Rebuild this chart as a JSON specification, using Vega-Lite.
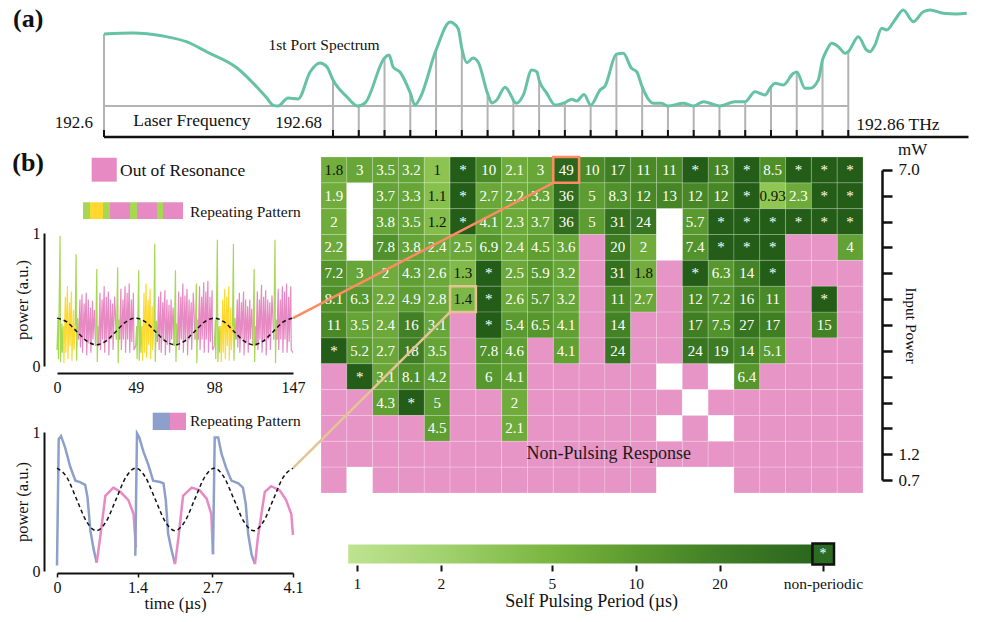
{
"$schema":"https://vega.github.io/schema/vega-lite/v6.json",
"width":997,"height":622,"padding":0,"autosize":{"type":"none"},
"background":"#ffffff",
"config":{"view":{"stroke":null},"font":"Liberation Serif","text":{"font":"Liberation Serif","color":"#111111"},
"axis":{"labelFont":"Liberation Serif","titleFont":"Liberation Serif","titleFontWeight":"normal","grid":false,"labelColor":"#111111","titleColor":"#111111","labelFlush":false,"labelOverlap":false}},
"resolve":{"scale":{"x":"independent","y":"independent","color":"independent","fill":"independent","stroke":"independent"},"axis":{"x":"independent","y":"independent"}},
"datasets":{
"spec":[
{"f":192.6,"v":0.75},{"f":192.6101,"v":0.76},{"f":192.6206,"v":0.729},{"f":192.629,"v":0.667},{"f":192.636,"v":0.5625},{"f":192.6465,"v":0.396},{"f":192.6534,"v":0.198},{"f":192.6569,"v":0.083},{"f":192.659,"v":0.01},{"f":192.6608,"v":0},{"f":192.6643,"v":0.083},{"f":192.6678,"v":0.073},{"f":192.672,"v":0.354},{"f":192.6755,"v":0.448},{"f":192.6779,"v":0.406},{"f":192.68,"v":0.271},{"f":192.6849,"v":0.094},{"f":192.6887,"v":0},{"f":192.6912,"v":0.031},{"f":192.698,"v":0.5},{"f":192.6996,"v":0.531},{"f":192.701,"v":0.406},{"f":192.7034,"v":0.354},{"f":192.707,"v":0.135},{"f":192.7086,"v":0.01},{"f":192.7104,"v":0.083},{"f":192.716,"v":0.583},{"f":192.7209,"v":0.875},{"f":192.7219,"v":0.865},{"f":192.7238,"v":0.8},{"f":192.725,"v":0.6},{"f":192.7268,"v":0.45},{"f":192.7289,"v":0.5},{"f":192.7307,"v":0.458},{"f":192.734,"v":0.13},{"f":192.7355,"v":0.031},{"f":192.7372,"v":0.0625},{"f":192.7401,"v":0.195},{"f":192.7424,"v":0.097},{"f":192.743,"v":0.06},{"f":192.7442,"v":0.028},{"f":192.7465,"v":0.115},{"f":192.7494,"v":0.375},{"f":192.7512,"v":0.357},{"f":192.752,"v":0.27},{"f":192.7547,"v":0.132},{"f":192.7576,"v":0.01},{"f":192.761,"v":0.035},{"f":192.7634,"v":0.07},{"f":192.7651,"v":0.052},{"f":192.7677,"v":0.12},{"f":192.77,"v":0.01},{"f":192.7733,"v":0.167},{"f":192.775,"v":0.208},{"f":192.779,"v":0.54},{"f":192.7814,"v":0.55},{"f":192.7843,"v":0.392},{"f":192.7861,"v":0.357},{"f":192.788,"v":0.2},{"f":192.7919,"v":0.028},{"f":192.7948,"v":0.028},{"f":192.797,"v":0},{"f":192.8024,"v":0.028},{"f":192.806,"v":0},{"f":192.8094,"v":0.045},{"f":192.8117,"v":0.028},{"f":192.815,"v":0},{"f":192.8204,"v":0.045},{"f":192.824,"v":0.045},{"f":192.8274,"v":0.149},{"f":192.8309,"v":0.115},{"f":192.833,"v":0.2},{"f":192.8344,"v":0.236},{"f":192.8373,"v":0.219},{"f":192.8408,"v":0.34},{"f":192.842,"v":0.355},{"f":192.8449,"v":0.184},{"f":192.8466,"v":0.184},{"f":192.8495,"v":0.27},{"f":192.851,"v":0.48},{"f":192.8525,"v":0.583},{"f":192.8542,"v":0.653},{"f":192.8565,"v":0.618},{"f":192.8589,"v":0.549},{"f":192.86,"v":0.566},{"f":192.8635,"v":0.722},{"f":192.8664,"v":0.583},{"f":192.8676,"v":0.566},{"f":192.8693,"v":0.635},{"f":192.8717,"v":0.809},{"f":192.8734,"v":0.792},{"f":192.8763,"v":0.896},{"f":192.8792,"v":1.0},{"f":192.8827,"v":0.878},{"f":192.8862,"v":0.982},{"f":192.8886,"v":1.0},{"f":192.8932,"v":0.965},{"f":192.8979,"v":0.958},{"f":192.9014,"v":0.965}
],
"ticks":[
{"f":192.6,"v":0.75},{"f":192.68,"v":0.271},{"f":192.689,"v":0},{"f":192.698,"v":0.5},{"f":192.707,"v":0.135},{"f":192.716,"v":0.583},{"f":192.725,"v":0.6},{"f":192.734,"v":0.13},{"f":192.743,"v":0.06},{"f":192.752,"v":0.27},{"f":192.761,"v":0.035},{"f":192.77,"v":0.01},{"f":192.779,"v":0.54},{"f":192.788,"v":0.2},{"f":192.797,"v":0},{"f":192.806,"v":0},{"f":192.815,"v":0},{"f":192.824,"v":0.045},{"f":192.833,"v":0.2},{"f":192.842,"v":0.355},{"f":192.851,"v":0.48},{"f":192.86,"v":0.566}
],
"heat":[
{"r":0,"c":0,"v":1.8,"t":"1.8"},{"r":0,"c":1,"v":3,"t":"3"},{"r":0,"c":2,"v":3.5,"t":"3.5"},{"r":0,"c":3,"v":3.2,"t":"3.2"},{"r":0,"c":4,"v":1,"t":"1"},{"r":0,"c":5,"k":"s","t":"*"},{"r":0,"c":6,"v":10,"t":"10"},{"r":0,"c":7,"v":2.1,"t":"2.1"},{"r":0,"c":8,"v":3,"t":"3"},{"r":0,"c":9,"v":49,"t":"49"},{"r":0,"c":10,"v":10,"t":"10"},{"r":0,"c":11,"v":17,"t":"17"},{"r":0,"c":12,"v":11,"t":"11"},{"r":0,"c":13,"v":11,"t":"11"},{"r":0,"c":14,"k":"s","t":"*"},{"r":0,"c":15,"v":13,"t":"13"},{"r":0,"c":16,"k":"s","t":"*"},{"r":0,"c":17,"v":8.5,"t":"8.5"},{"r":0,"c":18,"k":"s","t":"*"},{"r":0,"c":19,"k":"s","t":"*"},{"r":0,"c":20,"k":"s","t":"*"},
{"r":1,"c":0,"v":1.9,"t":"1.9"},{"r":1,"c":1,"k":"w"},{"r":1,"c":2,"v":3.7,"t":"3.7"},{"r":1,"c":3,"v":3.3,"t":"3.3"},{"r":1,"c":4,"v":1.1,"t":"1.1"},{"r":1,"c":5,"k":"s","t":"*"},{"r":1,"c":6,"v":2.7,"t":"2.7"},{"r":1,"c":7,"v":2.2,"t":"2.2"},{"r":1,"c":8,"v":3.3,"t":"3.3"},{"r":1,"c":9,"v":36,"t":"36"},{"r":1,"c":10,"v":5,"t":"5"},{"r":1,"c":11,"v":8.3,"t":"8.3"},{"r":1,"c":12,"v":12,"t":"12"},{"r":1,"c":13,"v":13,"t":"13"},{"r":1,"c":14,"v":12,"t":"12"},{"r":1,"c":15,"v":12,"t":"12"},{"r":1,"c":16,"k":"s","t":"*"},{"r":1,"c":17,"v":0.93,"t":"0.93"},{"r":1,"c":18,"v":2.3,"t":"2.3"},{"r":1,"c":19,"k":"s","t":"*"},{"r":1,"c":20,"k":"s","t":"*"},
{"r":2,"c":0,"v":2,"t":"2"},{"r":2,"c":1,"k":"w"},{"r":2,"c":2,"v":3.8,"t":"3.8"},{"r":2,"c":3,"v":3.5,"t":"3.5"},{"r":2,"c":4,"v":1.2,"t":"1.2"},{"r":2,"c":5,"k":"s","t":"*"},{"r":2,"c":6,"v":4.1,"t":"4.1"},{"r":2,"c":7,"v":2.3,"t":"2.3"},{"r":2,"c":8,"v":3.7,"t":"3.7"},{"r":2,"c":9,"v":36,"t":"36"},{"r":2,"c":10,"v":5,"t":"5"},{"r":2,"c":11,"v":31,"t":"31"},{"r":2,"c":12,"v":24,"t":"24"},{"r":2,"c":13,"k":"w"},{"r":2,"c":14,"v":5.7,"t":"5.7"},{"r":2,"c":15,"k":"s","t":"*"},{"r":2,"c":16,"k":"s","t":"*"},{"r":2,"c":17,"k":"s","t":"*"},{"r":2,"c":18,"k":"s","t":"*"},{"r":2,"c":19,"k":"s","t":"*"},{"r":2,"c":20,"k":"s","t":"*"},
{"r":3,"c":0,"v":2.2,"t":"2.2"},{"r":3,"c":1,"k":"w"},{"r":3,"c":2,"v":7.8,"t":"7.8"},{"r":3,"c":3,"v":3.8,"t":"3.8"},{"r":3,"c":4,"v":2.4,"t":"2.4"},{"r":3,"c":5,"v":2.5,"t":"2.5"},{"r":3,"c":6,"v":6.9,"t":"6.9"},{"r":3,"c":7,"v":2.4,"t":"2.4"},{"r":3,"c":8,"v":4.5,"t":"4.5"},{"r":3,"c":9,"v":3.6,"t":"3.6"},{"r":3,"c":10,"k":"p"},{"r":3,"c":11,"v":20,"t":"20"},{"r":3,"c":12,"v":2,"t":"2"},{"r":3,"c":13,"k":"w"},{"r":3,"c":14,"v":7.4,"t":"7.4"},{"r":3,"c":15,"k":"s","t":"*"},{"r":3,"c":16,"k":"s","t":"*"},{"r":3,"c":17,"k":"s","t":"*"},{"r":3,"c":18,"k":"p"},{"r":3,"c":19,"k":"p"},{"r":3,"c":20,"v":4,"t":"4"},
{"r":4,"c":0,"v":7.2,"t":"7.2"},{"r":4,"c":1,"v":3,"t":"3"},{"r":4,"c":2,"v":2,"t":"2"},{"r":4,"c":3,"v":4.3,"t":"4.3"},{"r":4,"c":4,"v":2.6,"t":"2.6"},{"r":4,"c":5,"v":1.3,"t":"1.3"},{"r":4,"c":6,"k":"s","t":"*"},{"r":4,"c":7,"v":2.5,"t":"2.5"},{"r":4,"c":8,"v":5.9,"t":"5.9"},{"r":4,"c":9,"v":3.2,"t":"3.2"},{"r":4,"c":10,"k":"p"},{"r":4,"c":11,"v":31,"t":"31"},{"r":4,"c":12,"v":1.8,"t":"1.8"},{"r":4,"c":13,"k":"p"},{"r":4,"c":14,"k":"s","t":"*"},{"r":4,"c":15,"v":6.3,"t":"6.3"},{"r":4,"c":16,"v":14,"t":"14"},{"r":4,"c":17,"k":"s","t":"*"},{"r":4,"c":18,"k":"p"},{"r":4,"c":19,"k":"p"},{"r":4,"c":20,"k":"p"},
{"r":5,"c":0,"v":8.1,"t":"8.1"},{"r":5,"c":1,"v":6.3,"t":"6.3"},{"r":5,"c":2,"v":2.2,"t":"2.2"},{"r":5,"c":3,"v":4.9,"t":"4.9"},{"r":5,"c":4,"v":2.8,"t":"2.8"},{"r":5,"c":5,"v":1.4,"t":"1.4"},{"r":5,"c":6,"k":"s","t":"*"},{"r":5,"c":7,"v":2.6,"t":"2.6"},{"r":5,"c":8,"v":5.7,"t":"5.7"},{"r":5,"c":9,"v":3.2,"t":"3.2"},{"r":5,"c":10,"k":"p"},{"r":5,"c":11,"v":11,"t":"11"},{"r":5,"c":12,"v":2.7,"t":"2.7"},{"r":5,"c":13,"k":"p"},{"r":5,"c":14,"v":12,"t":"12"},{"r":5,"c":15,"v":7.2,"t":"7.2"},{"r":5,"c":16,"v":16,"t":"16"},{"r":5,"c":17,"v":11,"t":"11"},{"r":5,"c":18,"k":"p"},{"r":5,"c":19,"k":"s","t":"*"},{"r":5,"c":20,"k":"p"},
{"r":6,"c":0,"v":11,"t":"11"},{"r":6,"c":1,"v":3.5,"t":"3.5"},{"r":6,"c":2,"v":2.4,"t":"2.4"},{"r":6,"c":3,"v":16,"t":"16"},{"r":6,"c":4,"v":3.1,"t":"3.1"},{"r":6,"c":5,"k":"p"},{"r":6,"c":6,"k":"s","t":"*"},{"r":6,"c":7,"v":5.4,"t":"5.4"},{"r":6,"c":8,"v":6.5,"t":"6.5"},{"r":6,"c":9,"v":4.1,"t":"4.1"},{"r":6,"c":10,"k":"p"},{"r":6,"c":11,"v":14,"t":"14"},{"r":6,"c":12,"k":"p"},{"r":6,"c":13,"k":"p"},{"r":6,"c":14,"v":17,"t":"17"},{"r":6,"c":15,"v":7.5,"t":"7.5"},{"r":6,"c":16,"v":27,"t":"27"},{"r":6,"c":17,"v":17,"t":"17"},{"r":6,"c":18,"k":"p"},{"r":6,"c":19,"v":15,"t":"15"},{"r":6,"c":20,"k":"p"},
{"r":7,"c":0,"k":"s","t":"*"},{"r":7,"c":1,"v":5.2,"t":"5.2"},{"r":7,"c":2,"v":2.7,"t":"2.7"},{"r":7,"c":3,"v":18,"t":"18"},{"r":7,"c":4,"v":3.5,"t":"3.5"},{"r":7,"c":5,"k":"p"},{"r":7,"c":6,"v":7.8,"t":"7.8"},{"r":7,"c":7,"v":4.6,"t":"4.6"},{"r":7,"c":8,"k":"p"},{"r":7,"c":9,"v":4.1,"t":"4.1"},{"r":7,"c":10,"k":"p"},{"r":7,"c":11,"v":24,"t":"24"},{"r":7,"c":12,"k":"p"},{"r":7,"c":13,"k":"p"},{"r":7,"c":14,"v":24,"t":"24"},{"r":7,"c":15,"v":19,"t":"19"},{"r":7,"c":16,"v":14,"t":"14"},{"r":7,"c":17,"v":5.1,"t":"5.1"},{"r":7,"c":18,"k":"p"},{"r":7,"c":19,"k":"p"},{"r":7,"c":20,"k":"p"},
{"r":8,"c":0,"k":"p"},{"r":8,"c":1,"k":"s","t":"*"},{"r":8,"c":2,"v":3.1,"t":"3.1"},{"r":8,"c":3,"v":8.1,"t":"8.1"},{"r":8,"c":4,"v":4.2,"t":"4.2"},{"r":8,"c":5,"k":"p"},{"r":8,"c":6,"v":6,"t":"6"},{"r":8,"c":7,"v":4.1,"t":"4.1"},{"r":8,"c":8,"k":"p"},{"r":8,"c":9,"k":"p"},{"r":8,"c":10,"k":"p"},{"r":8,"c":11,"k":"p"},{"r":8,"c":12,"k":"p"},{"r":8,"c":13,"k":"w"},{"r":8,"c":14,"k":"p"},{"r":8,"c":15,"k":"w"},{"r":8,"c":16,"v":6.4,"t":"6.4"},{"r":8,"c":17,"k":"p"},{"r":8,"c":18,"k":"p"},{"r":8,"c":19,"k":"p"},{"r":8,"c":20,"k":"p"},
{"r":9,"c":0,"k":"p"},{"r":9,"c":1,"k":"p"},{"r":9,"c":2,"v":4.3,"t":"4.3"},{"r":9,"c":3,"k":"s","t":"*"},{"r":9,"c":4,"v":5,"t":"5"},{"r":9,"c":5,"k":"p"},{"r":9,"c":6,"k":"p"},{"r":9,"c":7,"v":2,"t":"2"},{"r":9,"c":8,"k":"p"},{"r":9,"c":9,"k":"p"},{"r":9,"c":10,"k":"p"},{"r":9,"c":11,"k":"p"},{"r":9,"c":12,"k":"p"},{"r":9,"c":13,"k":"p"},{"r":9,"c":14,"k":"w"},{"r":9,"c":15,"k":"p"},{"r":9,"c":16,"k":"p"},{"r":9,"c":17,"k":"p"},{"r":9,"c":18,"k":"p"},{"r":9,"c":19,"k":"p"},{"r":9,"c":20,"k":"p"},
{"r":10,"c":0,"k":"p"},{"r":10,"c":1,"k":"p"},{"r":10,"c":2,"k":"p"},{"r":10,"c":3,"k":"p"},{"r":10,"c":4,"v":4.5,"t":"4.5"},{"r":10,"c":5,"k":"p"},{"r":10,"c":6,"k":"p"},{"r":10,"c":7,"v":2.1,"t":"2.1"},{"r":10,"c":8,"k":"p"},{"r":10,"c":9,"k":"p"},{"r":10,"c":10,"k":"p"},{"r":10,"c":11,"k":"p"},{"r":10,"c":12,"k":"p"},{"r":10,"c":13,"k":"w"},{"r":10,"c":14,"k":"p"},{"r":10,"c":15,"k":"w"},{"r":10,"c":16,"k":"p"},{"r":10,"c":17,"k":"p"},{"r":10,"c":18,"k":"p"},{"r":10,"c":19,"k":"p"},{"r":10,"c":20,"k":"p"},
{"r":11,"c":0,"k":"p"},{"r":11,"c":1,"k":"p"},{"r":11,"c":2,"k":"p"},{"r":11,"c":3,"k":"p"},{"r":11,"c":4,"k":"p"},{"r":11,"c":5,"k":"p"},{"r":11,"c":6,"k":"p"},{"r":11,"c":7,"k":"p"},{"r":11,"c":8,"k":"p"},{"r":11,"c":9,"k":"p"},{"r":11,"c":10,"k":"p"},{"r":11,"c":11,"k":"p"},{"r":11,"c":12,"k":"p"},{"r":11,"c":13,"k":"p"},{"r":11,"c":14,"k":"p"},{"r":11,"c":15,"k":"p"},{"r":11,"c":16,"k":"p"},{"r":11,"c":17,"k":"p"},{"r":11,"c":18,"k":"p"},{"r":11,"c":19,"k":"p"},{"r":11,"c":20,"k":"p"},
{"r":12,"c":0,"k":"p"},{"r":12,"c":1,"k":"w"},{"r":12,"c":2,"k":"p"},{"r":12,"c":3,"k":"p"},{"r":12,"c":4,"k":"p"},{"r":12,"c":5,"k":"p"},{"r":12,"c":6,"k":"p"},{"r":12,"c":7,"k":"p"},{"r":12,"c":8,"k":"p"},{"r":12,"c":9,"k":"p"},{"r":12,"c":10,"k":"p"},{"r":12,"c":11,"k":"p"},{"r":12,"c":12,"k":"p"},{"r":12,"c":13,"k":"w"},{"r":12,"c":14,"k":"w"},{"r":12,"c":15,"k":"w"},{"r":12,"c":16,"k":"p"},{"r":12,"c":17,"k":"p"},{"r":12,"c":18,"k":"p"},{"r":12,"c":19,"k":"p"},{"r":12,"c":20,"k":"p"}
],
"tl":[
{"t":0,"p":0.12,"s":0,"c":"g"},{"t":0.6,"p":0.35,"s":0,"c":"g"},{"t":0.9,"p":0.05,"s":0,"c":"g"},{"t":1.9,"p":0.98,"s":0,"c":"g"},{"t":2.2,"p":0.03,"s":0,"c":"g"},{"t":3.0,"p":0.32,"s":0,"c":"g"},{"t":3.3,"p":0.1,"s":0,"c":"g"},{"t":4.0,"p":0.3,"s":0,"c":"g"},
{"t":4.0,"p":0.3,"s":1,"c":"y"},{"t":4.3,"p":0.02,"s":1,"c":"y"},{"t":5.2,"p":0.52,"s":1,"c":"y"},{"t":5.5,"p":0.1,"s":1,"c":"y"},{"t":6.5,"p":0.6,"s":1,"c":"y"},{"t":6.8,"p":0.05,"s":1,"c":"y"},{"t":7.8,"p":0.48,"s":1,"c":"y"},{"t":8.1,"p":0.15,"s":1,"c":"y"},{"t":9.0,"p":0.56,"s":1,"c":"y"},{"t":9.3,"p":0.04,"s":1,"c":"y"},{"t":10.3,"p":0.42,"s":1,"c":"y"},{"t":10.6,"p":0.12,"s":1,"c":"y"},{"t":11.3,"p":0.3,"s":1,"c":"y"},
{"t":11.3,"p":0.3,"s":2,"c":"g"},{"t":11.9,"p":0.84,"s":2,"c":"g"},{"t":12.2,"p":0.04,"s":2,"c":"g"},{"t":12.9,"p":0.36,"s":2,"c":"g"},{"t":13.5,"p":0.2,"s":2,"c":"g"},
{"t":13.5,"p":0.2,"s":3,"c":"p"},{"t":14.3,"p":0.5,"s":3,"c":"p"},{"t":14.6,"p":0.14,"s":3,"c":"p"},{"t":15.6,"p":0.54,"s":3,"c":"p"},{"t":15.9,"p":0.1,"s":3,"c":"p"},{"t":16.9,"p":0.47,"s":3,"c":"p"},{"t":17.2,"p":0.2,"s":3,"c":"p"},{"t":18.2,"p":0.55,"s":3,"c":"p"},{"t":18.5,"p":0.08,"s":3,"c":"p"},{"t":19.5,"p":0.5,"s":3,"c":"p"},{"t":19.8,"p":0.17,"s":3,"c":"p"},{"t":20.8,"p":0.44,"s":3,"c":"p"},{"t":21.1,"p":0.1,"s":3,"c":"p"},{"t":22.1,"p":0.49,"s":3,"c":"p"},{"t":22.4,"p":0.2,"s":3,"c":"p"},{"t":23.3,"p":0.42,"s":3,"c":"p"},{"t":24.0,"p":0.15,"s":3,"c":"p"},
{"t":24.0,"p":0.15,"s":4,"c":"g"},{"t":24.8,"p":0.73,"s":4,"c":"g"},{"t":25.1,"p":0.03,"s":4,"c":"g"},{"t":25.6,"p":0.3,"s":4,"c":"g"},{"t":26.0,"p":0.15,"s":4,"c":"g"},
{"t":26.0,"p":0.15,"s":5,"c":"p"},{"t":26.8,"p":0.55,"s":5,"c":"p"},{"t":27.1,"p":0.12,"s":5,"c":"p"},{"t":28.1,"p":0.5,"s":5,"c":"p"},{"t":28.4,"p":0.2,"s":5,"c":"p"},{"t":29.4,"p":0.6,"s":5,"c":"p"},{"t":29.7,"p":0.1,"s":5,"c":"p"},{"t":30.7,"p":0.52,"s":5,"c":"p"},{"t":31.0,"p":0.18,"s":5,"c":"p"},{"t":32.0,"p":0.56,"s":5,"c":"p"},{"t":32.3,"p":0.08,"s":5,"c":"p"},{"t":33.3,"p":0.5,"s":5,"c":"p"},{"t":33.6,"p":0.2,"s":5,"c":"p"},{"t":34.6,"p":0.47,"s":5,"c":"p"},{"t":34.9,"p":0.12,"s":5,"c":"p"},{"t":35.9,"p":0.52,"s":5,"c":"p"},{"t":37.0,"p":0.2,"s":5,"c":"p"},
{"t":37.0,"p":0.2,"s":6,"c":"g"},{"t":37.8,"p":0.74,"s":6,"c":"g"},{"t":38.1,"p":0.02,"s":6,"c":"g"},{"t":38.6,"p":0.35,"s":6,"c":"g"},{"t":39.0,"p":0.2,"s":6,"c":"g"},
{"t":39.0,"p":0.2,"s":7,"c":"p"},{"t":39.8,"p":0.58,"s":7,"c":"p"},{"t":40.1,"p":0.12,"s":7,"c":"p"},{"t":41.1,"p":0.5,"s":7,"c":"p"},{"t":41.4,"p":0.2,"s":7,"c":"p"},{"t":42.4,"p":0.6,"s":7,"c":"p"},{"t":42.7,"p":0.1,"s":7,"c":"p"},{"t":43.7,"p":0.55,"s":7,"c":"p"},{"t":44.0,"p":0.2,"s":7,"c":"p"},{"t":45.0,"p":0.62,"s":7,"c":"p"},{"t":45.3,"p":0.1,"s":7,"c":"p"},{"t":46.3,"p":0.5,"s":7,"c":"p"},{"t":46.6,"p":0.18,"s":7,"c":"p"},{"t":47.6,"p":0.55,"s":7,"c":"p"},{"t":47.9,"p":0.12,"s":7,"c":"p"},{"t":49.0,"p":0.15,"s":7,"c":"p"},
{"t":49.0,"p":0.15,"s":10,"c":"g"},{"t":49.6,"p":0.3,"s":10,"c":"g"},{"t":49.9,"p":0.05,"s":10,"c":"g"},{"t":50.9,"p":0.72,"s":10,"c":"g"},{"t":51.2,"p":0.04,"s":10,"c":"g"},{"t":52.0,"p":0.35,"s":10,"c":"g"},{"t":52.3,"p":0.1,"s":10,"c":"g"},{"t":53.0,"p":0.3,"s":10,"c":"g"},
{"t":53.0,"p":0.3,"s":11,"c":"y"},{"t":53.3,"p":0.04,"s":11,"c":"y"},{"t":54.2,"p":0.55,"s":11,"c":"y"},{"t":54.5,"p":0.1,"s":11,"c":"y"},{"t":55.5,"p":0.62,"s":11,"c":"y"},{"t":55.8,"p":0.06,"s":11,"c":"y"},{"t":56.8,"p":0.5,"s":11,"c":"y"},{"t":57.1,"p":0.16,"s":11,"c":"y"},{"t":58.0,"p":0.58,"s":11,"c":"y"},{"t":58.3,"p":0.05,"s":11,"c":"y"},{"t":59.3,"p":0.45,"s":11,"c":"y"},{"t":59.6,"p":0.12,"s":11,"c":"y"},{"t":60.3,"p":0.28,"s":11,"c":"y"},
{"t":60.3,"p":0.28,"s":12,"c":"g"},{"t":60.9,"p":0.92,"s":12,"c":"g"},{"t":61.2,"p":0.03,"s":12,"c":"g"},{"t":61.9,"p":0.34,"s":12,"c":"g"},{"t":62.5,"p":0.18,"s":12,"c":"g"},
{"t":62.5,"p":0.18,"s":13,"c":"p"},{"t":63.3,"p":0.52,"s":13,"c":"p"},{"t":63.6,"p":0.12,"s":13,"c":"p"},{"t":64.6,"p":0.56,"s":13,"c":"p"},{"t":64.9,"p":0.1,"s":13,"c":"p"},{"t":65.9,"p":0.48,"s":13,"c":"p"},{"t":66.2,"p":0.2,"s":13,"c":"p"},{"t":67.2,"p":0.57,"s":13,"c":"p"},{"t":67.5,"p":0.08,"s":13,"c":"p"},{"t":68.5,"p":0.5,"s":13,"c":"p"},{"t":68.8,"p":0.16,"s":13,"c":"p"},{"t":69.8,"p":0.46,"s":13,"c":"p"},{"t":70.1,"p":0.1,"s":13,"c":"p"},{"t":71.1,"p":0.5,"s":13,"c":"p"},{"t":71.4,"p":0.2,"s":13,"c":"p"},{"t":72.3,"p":0.44,"s":13,"c":"p"},{"t":73.0,"p":0.15,"s":13,"c":"p"},
{"t":73.0,"p":0.15,"s":14,"c":"g"},{"t":73.8,"p":0.72,"s":14,"c":"g"},{"t":74.1,"p":0.03,"s":14,"c":"g"},{"t":74.6,"p":0.32,"s":14,"c":"g"},{"t":75.0,"p":0.15,"s":14,"c":"g"},
{"t":75.0,"p":0.15,"s":15,"c":"p"},{"t":75.8,"p":0.56,"s":15,"c":"p"},{"t":76.1,"p":0.12,"s":15,"c":"p"},{"t":77.1,"p":0.52,"s":15,"c":"p"},{"t":77.4,"p":0.2,"s":15,"c":"p"},{"t":78.4,"p":0.62,"s":15,"c":"p"},{"t":78.7,"p":0.1,"s":15,"c":"p"},{"t":79.7,"p":0.53,"s":15,"c":"p"},{"t":80.0,"p":0.18,"s":15,"c":"p"},{"t":81.0,"p":0.58,"s":15,"c":"p"},{"t":81.3,"p":0.08,"s":15,"c":"p"},{"t":82.3,"p":0.5,"s":15,"c":"p"},{"t":82.6,"p":0.2,"s":15,"c":"p"},{"t":83.6,"p":0.48,"s":15,"c":"p"},{"t":83.9,"p":0.12,"s":15,"c":"p"},{"t":84.9,"p":0.55,"s":15,"c":"p"},{"t":86.0,"p":0.2,"s":15,"c":"p"},
{"t":86.0,"p":0.2,"s":16,"c":"g"},{"t":86.8,"p":0.62,"s":16,"c":"g"},{"t":87.1,"p":0.02,"s":16,"c":"g"},{"t":87.6,"p":0.35,"s":16,"c":"g"},{"t":88.0,"p":0.2,"s":16,"c":"g"},
{"t":88.0,"p":0.2,"s":17,"c":"p"},{"t":88.8,"p":0.6,"s":17,"c":"p"},{"t":89.1,"p":0.12,"s":17,"c":"p"},{"t":90.1,"p":0.52,"s":17,"c":"p"},{"t":90.4,"p":0.2,"s":17,"c":"p"},{"t":91.4,"p":0.63,"s":17,"c":"p"},{"t":91.7,"p":0.1,"s":17,"c":"p"},{"t":92.7,"p":0.56,"s":17,"c":"p"},{"t":93.0,"p":0.2,"s":17,"c":"p"},{"t":94.0,"p":0.64,"s":17,"c":"p"},{"t":94.3,"p":0.1,"s":17,"c":"p"},{"t":95.3,"p":0.52,"s":17,"c":"p"},{"t":95.6,"p":0.18,"s":17,"c":"p"},{"t":96.6,"p":0.57,"s":17,"c":"p"},{"t":96.9,"p":0.12,"s":17,"c":"p"},{"t":98.0,"p":0.15,"s":17,"c":"p"},
{"t":98.0,"p":0.15,"s":20,"c":"g"},{"t":98.6,"p":0.35,"s":20,"c":"g"},{"t":98.9,"p":0.05,"s":20,"c":"g"},{"t":99.9,"p":0.95,"s":20,"c":"g"},{"t":100.2,"p":0.03,"s":20,"c":"g"},{"t":101.0,"p":0.3,"s":20,"c":"g"},{"t":101.3,"p":0.1,"s":20,"c":"g"},{"t":102.0,"p":0.3,"s":20,"c":"g"},
{"t":102.0,"p":0.3,"s":21,"c":"y"},{"t":102.3,"p":0.03,"s":21,"c":"y"},{"t":103.2,"p":0.5,"s":21,"c":"y"},{"t":103.5,"p":0.1,"s":21,"c":"y"},{"t":104.5,"p":0.58,"s":21,"c":"y"},{"t":104.8,"p":0.05,"s":21,"c":"y"},{"t":105.8,"p":0.52,"s":21,"c":"y"},{"t":106.1,"p":0.15,"s":21,"c":"y"},{"t":107.0,"p":0.6,"s":21,"c":"y"},{"t":107.3,"p":0.04,"s":21,"c":"y"},{"t":108.3,"p":0.44,"s":21,"c":"y"},{"t":108.6,"p":0.12,"s":21,"c":"y"},{"t":109.3,"p":0.3,"s":21,"c":"y"},
{"t":109.3,"p":0.3,"s":22,"c":"g"},{"t":109.9,"p":0.92,"s":22,"c":"g"},{"t":110.2,"p":0.04,"s":22,"c":"g"},{"t":110.9,"p":0.36,"s":22,"c":"g"},{"t":111.5,"p":0.2,"s":22,"c":"g"},
{"t":111.5,"p":0.2,"s":23,"c":"p"},{"t":112.3,"p":0.5,"s":23,"c":"p"},{"t":112.6,"p":0.14,"s":23,"c":"p"},{"t":113.6,"p":0.55,"s":23,"c":"p"},{"t":113.9,"p":0.1,"s":23,"c":"p"},{"t":114.9,"p":0.48,"s":23,"c":"p"},{"t":115.2,"p":0.2,"s":23,"c":"p"},{"t":116.2,"p":0.56,"s":23,"c":"p"},{"t":116.5,"p":0.08,"s":23,"c":"p"},{"t":117.5,"p":0.5,"s":23,"c":"p"},{"t":117.8,"p":0.17,"s":23,"c":"p"},{"t":118.8,"p":0.45,"s":23,"c":"p"},{"t":119.1,"p":0.1,"s":23,"c":"p"},{"t":120.1,"p":0.5,"s":23,"c":"p"},{"t":120.4,"p":0.2,"s":23,"c":"p"},{"t":121.3,"p":0.43,"s":23,"c":"p"},{"t":122.0,"p":0.15,"s":23,"c":"p"},
{"t":122.0,"p":0.15,"s":24,"c":"g"},{"t":122.8,"p":0.73,"s":24,"c":"g"},{"t":123.1,"p":0.03,"s":24,"c":"g"},{"t":123.6,"p":0.3,"s":24,"c":"g"},{"t":124.0,"p":0.15,"s":24,"c":"g"},
{"t":124.0,"p":0.15,"s":25,"c":"p"},{"t":124.8,"p":0.56,"s":25,"c":"p"},{"t":125.1,"p":0.12,"s":25,"c":"p"},{"t":126.1,"p":0.5,"s":25,"c":"p"},{"t":126.4,"p":0.2,"s":25,"c":"p"},{"t":127.4,"p":0.61,"s":25,"c":"p"},{"t":127.7,"p":0.1,"s":25,"c":"p"},{"t":128.7,"p":0.52,"s":25,"c":"p"},{"t":129.0,"p":0.18,"s":25,"c":"p"},{"t":130.0,"p":0.57,"s":25,"c":"p"},{"t":130.3,"p":0.08,"s":25,"c":"p"},{"t":131.3,"p":0.5,"s":25,"c":"p"},{"t":131.6,"p":0.2,"s":25,"c":"p"},{"t":132.6,"p":0.48,"s":25,"c":"p"},{"t":132.9,"p":0.12,"s":25,"c":"p"},{"t":133.9,"p":0.53,"s":25,"c":"p"},{"t":135.0,"p":0.2,"s":25,"c":"p"},
{"t":135.0,"p":0.2,"s":26,"c":"g"},{"t":135.8,"p":0.95,"s":26,"c":"g"},{"t":136.1,"p":0.02,"s":26,"c":"g"},{"t":136.6,"p":0.35,"s":26,"c":"g"},{"t":137.0,"p":0.2,"s":26,"c":"g"},
{"t":137.0,"p":0.2,"s":27,"c":"p"},{"t":137.8,"p":0.58,"s":27,"c":"p"},{"t":138.1,"p":0.12,"s":27,"c":"p"},{"t":139.1,"p":0.5,"s":27,"c":"p"},{"t":139.4,"p":0.2,"s":27,"c":"p"},{"t":140.4,"p":0.6,"s":27,"c":"p"},{"t":140.7,"p":0.1,"s":27,"c":"p"},{"t":141.7,"p":0.56,"s":27,"c":"p"},{"t":142.0,"p":0.2,"s":27,"c":"p"},{"t":143.0,"p":0.62,"s":27,"c":"p"},{"t":143.3,"p":0.1,"s":27,"c":"p"},{"t":144.3,"p":0.52,"s":27,"c":"p"},{"t":144.6,"p":0.18,"s":27,"c":"p"},{"t":145.6,"p":0.6,"s":27,"c":"p"},{"t":145.9,"p":0.12,"s":27,"c":"p"},{"t":147.0,"p":0.1,"s":27,"c":"p"}
],
"bl":[
{"t":0,"p":0.04,"s":"b0","c":"b"},{"t":0.03,"p":0.95,"s":"b0","c":"b"},{"t":0.07,"p":0.97,"s":"b0","c":"b"},{"t":0.14,"p":0.89,"s":"b0","c":"b"},{"t":0.23,"p":0.75,"s":"b0","c":"b"},{"t":0.32,"p":0.65,"s":"b0","c":"b"},{"t":0.4,"p":0.64,"s":"b0","c":"b"},{"t":0.49,"p":0.62,"s":"b0","c":"b"},{"t":0.53,"p":0.53,"s":"b0","c":"b"},{"t":0.58,"p":0.29,"s":"b0","c":"b"},{"t":0.64,"p":0.15,"s":"b0","c":"b"},{"t":0.69,"p":0.06,"s":"b0","c":"b"},
{"t":0.69,"p":0.06,"s":"p0","c":"p"},{"t":0.75,"p":0.24,"s":"p0","c":"p"},{"t":0.84,"p":0.54,"s":"p0","c":"p"},{"t":0.98,"p":0.6,"s":"p0","c":"p"},{"t":1.1,"p":0.57,"s":"p0","c":"p"},{"t":1.24,"p":0.51,"s":"p0","c":"p"},{"t":1.33,"p":0.41,"s":"p0","c":"p"},{"t":1.37,"p":0.17,"s":"p0","c":"p"},
{"t":1.36,"p":0.11,"s":"b1","c":"b"},{"t":1.39,"p":0.99,"s":"b1","c":"b"},{"t":1.43,"p":0.96,"s":"b1","c":"b"},{"t":1.5,"p":0.86,"s":"b1","c":"b"},{"t":1.59,"p":0.76,"s":"b1","c":"b"},{"t":1.67,"p":0.65,"s":"b1","c":"b"},{"t":1.79,"p":0.64,"s":"b1","c":"b"},{"t":1.85,"p":0.63,"s":"b1","c":"b"},{"t":1.89,"p":0.51,"s":"b1","c":"b"},{"t":1.93,"p":0.27,"s":"b1","c":"b"},{"t":1.99,"p":0.15,"s":"b1","c":"b"},{"t":2.05,"p":0.05,"s":"b1","c":"b"},
{"t":2.05,"p":0.05,"s":"p1","c":"p"},{"t":2.11,"p":0.24,"s":"p1","c":"p"},{"t":2.19,"p":0.54,"s":"p1","c":"p"},{"t":2.34,"p":0.6,"s":"p1","c":"p"},{"t":2.48,"p":0.58,"s":"p1","c":"p"},{"t":2.6,"p":0.52,"s":"p1","c":"p"},{"t":2.68,"p":0.41,"s":"p1","c":"p"},{"t":2.71,"p":0.12,"s":"p1","c":"p"},
{"t":2.71,"p":0.12,"s":"b2","c":"b"},{"t":2.74,"p":0.96,"s":"b2","c":"b"},{"t":2.8,"p":0.96,"s":"b2","c":"b"},{"t":2.86,"p":0.84,"s":"b2","c":"b"},{"t":2.94,"p":0.74,"s":"b2","c":"b"},{"t":3.03,"p":0.65,"s":"b2","c":"b"},{"t":3.15,"p":0.63,"s":"b2","c":"b"},{"t":3.23,"p":0.6,"s":"b2","c":"b"},{"t":3.28,"p":0.48,"s":"b2","c":"b"},{"t":3.32,"p":0.27,"s":"b2","c":"b"},{"t":3.38,"p":0.12,"s":"b2","c":"b"},{"t":3.44,"p":0.05,"s":"b2","c":"b"},
{"t":3.44,"p":0.05,"s":"p2","c":"p"},{"t":3.49,"p":0.24,"s":"p2","c":"p"},{"t":3.61,"p":0.57,"s":"p2","c":"p"},{"t":3.72,"p":0.61,"s":"p2","c":"p"},{"t":3.87,"p":0.58,"s":"p2","c":"p"},{"t":3.98,"p":0.51,"s":"p2","c":"p"},{"t":4.07,"p":0.41,"s":"p2","c":"p"},{"t":4.1,"p":0.26,"s":"p2","c":"p"}
],
"dashT":[
{"t":0,"p":0.36},{"t":6.125,"p":0.331},{"t":12.25,"p":0.26},{"t":18.375,"p":0.189},{"t":24.5,"p":0.16},{"t":30.625,"p":0.189},{"t":36.75,"p":0.26},{"t":42.875,"p":0.331},{"t":49,"p":0.36},{"t":55.125,"p":0.331},{"t":61.25,"p":0.26},{"t":67.375,"p":0.189},{"t":73.5,"p":0.16},{"t":79.625,"p":0.189},{"t":85.75,"p":0.26},{"t":91.875,"p":0.331},{"t":98,"p":0.36},{"t":104.125,"p":0.331},{"t":110.25,"p":0.26},{"t":116.375,"p":0.189},{"t":122.5,"p":0.16},{"t":128.625,"p":0.189},{"t":134.75,"p":0.26},{"t":140.875,"p":0.331},{"t":147,"p":0.36}
],
"dashB":[
{"t":0,"p":0.74},{"t":0.171,"p":0.674},{"t":0.342,"p":0.515},{"t":0.513,"p":0.356},{"t":0.683,"p":0.29},{"t":0.854,"p":0.356},{"t":1.025,"p":0.515},{"t":1.196,"p":0.674},{"t":1.367,"p":0.74},{"t":1.538,"p":0.674},{"t":1.708,"p":0.515},{"t":1.879,"p":0.356},{"t":2.05,"p":0.29},{"t":2.221,"p":0.356},{"t":2.392,"p":0.515},{"t":2.563,"p":0.674},{"t":2.733,"p":0.74},{"t":2.904,"p":0.674},{"t":3.075,"p":0.515},{"t":3.246,"p":0.356},{"t":3.417,"p":0.29},{"t":3.588,"p":0.356},{"t":3.758,"p":0.515},{"t":3.929,"p":0.674},{"t":4.1,"p":0.74}
]
},
"layer":[
{
"layer":[
{"data":{"name":"ticks"},"mark":{"type":"rule","color":"#b3b3b3","strokeWidth":2},
"encoding":{"x":{"field":"f","type":"quantitative","scale":{"domain":[192.6,192.902],"range":[104,968.5],"nice":false,"zero":false},"axis":null},
"y":{"field":"v","type":"quantitative","scale":{"domain":[-0.323,1],"range":[137,10],"nice":false,"zero":false},"axis":null},"y2":{"datum":-0.323}}},
{"data":{"values":[{"a":192.6,"b":192.86,"y":0}]},"mark":{"type":"rule","color":"#b3b3b3","strokeWidth":2},
"encoding":{"x":{"field":"a","type":"quantitative","axis":null},"x2":{"field":"b"},"y":{"field":"y","type":"quantitative","axis":null}}},
{"data":{"values":[{"a":192.6,"b":192.902,"y":-0.323}]},"mark":{"type":"rule","color":"#111111","strokeWidth":2.5},
"encoding":{"x":{"field":"a","type":"quantitative","axis":null},"x2":{"field":"b"},"y":{"field":"y","type":"quantitative","axis":null}}},
{"data":{"name":"ticks"},"mark":{"type":"rule","color":"#111111","strokeWidth":2},
"encoding":{"x":{"field":"f","type":"quantitative","axis":null},"y":{"datum":-0.323,"type":"quantitative","axis":null},"y2":{"datum":-0.25}}},
{"data":{"name":"spec"},"mark":{"type":"line","color":"#66c2a5","strokeWidth":3,"interpolate":"monotone"},
"encoding":{"x":{"field":"f","type":"quantitative","axis":null},"y":{"field":"v","type":"quantitative","axis":null}}},
{"data":{"values":[{"x":192.5735,"y":0.906,"t":"(a)"},{"x":192.5735,"y":-0.594,"t":"(b)"}]},"mark":{"type":"text","fontSize":26,"fontWeight":"bold","baseline":"middle"},
"encoding":{"x":{"field":"x","type":"quantitative","axis":null},"y":{"field":"y","type":"quantitative","axis":null},"text":{"field":"t"}}},
{"data":{"values":[{"x":192.6,"y":-0.18,"t":"192.6"},{"x":192.68,"y":-0.18,"t":"192.68"}]},"mark":{"type":"text","fontSize":17,"align":"right","dx":-11,"baseline":"middle"},
"encoding":{"x":{"field":"x","type":"quantitative","axis":null},"y":{"field":"y","type":"quantitative","axis":null},"text":{"field":"t"}}},
{"data":{"values":[{"x":192.86,"y":-0.198,"t":"192.86 THz"}]},"mark":{"type":"text","fontSize":17.5,"align":"left","dx":8,"baseline":"middle"},
"encoding":{"x":{"field":"x","type":"quantitative","axis":null},"y":{"field":"y","type":"quantitative","axis":null},"text":{"field":"t"}}},
{"data":{"values":[{"x":192.6307,"y":-0.16,"t":"Laser Frequency"}]},"mark":{"type":"text","fontSize":17.5,"baseline":"middle"},
"encoding":{"x":{"field":"x","type":"quantitative","axis":null},"y":{"field":"y","type":"quantitative","axis":null},"text":{"field":"t"}}},
{"data":{"values":[{"x":192.6769,"y":0.635,"t":"1st Port Spectrum"}]},"mark":{"type":"text","fontSize":15.5,"baseline":"middle"},
"encoding":{"x":{"field":"x","type":"quantitative","axis":null},"y":{"field":"y","type":"quantitative","axis":null},"text":{"field":"t"}}}
]
},
{
"data":{"name":"heat"},
"encoding":{"x":{"field":"c","type":"ordinal","scale":{"domain":[0,1,2,3,4,5,6,7,8,9,10,11,12,13,14,15,16,17,18,19,20],"range":[321,863],"paddingInner":0,"paddingOuter":0},"axis":null},
"y":{"field":"r","type":"ordinal","scale":{"domain":[0,1,2,3,4,5,6,7,8,9,10,11,12],"range":[157,493],"paddingInner":0,"paddingOuter":0},"axis":null}},
"layer":[
{"transform":[{"filter":"isValid(datum.v)"}],"mark":{"type":"rect","stroke":"#ffffff","strokeOpacity":0.2,"strokeWidth":1},
"encoding":{"color":{"field":"v","type":"quantitative","scale":{"type":"log","domain":[0.93,1.8,4,10,49],"range":["#90c753","#72ad3d","#62a234","#4b8b27","#2a661c"]},"legend":null}}},
{"transform":[{"filter":"isValid(datum.k)"}],"mark":{"type":"rect","stroke":"#ffffff","strokeOpacity":0.2,"strokeWidth":1},
"encoding":{"fill":{"field":"k","type":"nominal","scale":{"domain":["s","p","w"],"range":["#245d18","#e794c6","#ffffff"]},"legend":null}}},
{"transform":[{"filter":"isValid(datum.t)"}],"mark":{"type":"text","fontSize":15,"baseline":"middle"},
"encoding":{"text":{"field":"t"},"color":{"condition":{"test":"datum.v <= 1.8","value":"#111111"},"value":"#ffffff"}}},
{"data":{"values":[{"r":0,"c":9,"h":"o"},{"r":5,"c":5,"h":"t"}]},"mark":{"type":"rect","fillOpacity":0,"strokeWidth":2.5},
"encoding":{"stroke":{"field":"h","type":"nominal","scale":{"domain":["o","t"],"range":["#fc8d62","#e5c494"]},"legend":null}}},
{"data":{"values":[{"r":11,"c":11,"t":"Non-Pulsing Response"}]},"mark":{"type":"text","fontSize":18,"dx":-9,"baseline":"middle","color":"#1a1a1a"},
"encoding":{"text":{"field":"t"}}}
]
},
{
"layer":[
{"data":{"values":[{"lo":0.93,"hi":43.1}]},
"mark":{"type":"rect","color":{"gradient":"linear","x1":0,"y1":0,"x2":1,"y2":0,"stops":[{"offset":0,"color":"#bfe391"},{"offset":0.2,"color":"#a2d26f"},{"offset":0.44,"color":"#79b53f"},{"offset":0.62,"color":"#5c9a2f"},{"offset":0.8,"color":"#417e26"},{"offset":1,"color":"#2b661e"}]}},
"encoding":{"x":{"field":"lo","type":"quantitative","scale":{"type":"log","domain":[0.93,51.5],"range":[348.2,834],"nice":false},
"axis":{"orient":"bottom","offset":-57,"values":[1,2,5,10,20,47],"labelExpr":"datum.value > 40 ? 'non-periodic' : format(datum.value, 'd')","domain":false,"tickSize":6,"tickWidth":2,"tickColor":"#111111","labelFontSize":15.5,"labelPadding":5,"title":"Self Pulsing Period (µs)","titleFontSize":18,"titlePadding":1}},
"x2":{"field":"hi"},
"y":{"datum":0,"type":"quantitative","scale":{"domain":[0,1],"range":[563.5,544.5],"nice":false,"zero":false},"axis":null},"y2":{"datum":1}}},
{"data":{"values":[{"lo":43.1,"hi":51.5}]},"mark":{"type":"rect","color":"#2e6b22","stroke":"#111111","strokeWidth":2.5},
"encoding":{"x":{"field":"lo","type":"quantitative"},"x2":{"field":"hi"},"y":{"datum":-0.05,"type":"quantitative","axis":null},"y2":{"datum":1.05}}},
{"data":{"values":[{"x":47,"t":"*"}]},"mark":{"type":"text","color":"#ffffff","fontSize":14,"baseline":"middle"},
"encoding":{"x":{"field":"x","type":"quantitative"},"y":{"datum":0.5,"type":"quantitative","axis":null},"text":{"field":"t"}}}
]
},
{
"layer":[
{"data":{"name":"tl"},"mark":{"type":"line","strokeWidth":1.2},
"encoding":{"x":{"field":"t","type":"quantitative","scale":{"domain":[0,147],"range":[57,293],"nice":false,"zero":false},
"axis":{"orient":"bottom","offset":-249,"values":[0,49,98,147],"format":"~g","ticks":false,"tickSize":0,"domainColor":"#111111","domainWidth":2,"labelFontSize":16,"labelPadding":6,"title":null}},
"y":{"field":"p","type":"quantitative","scale":{"domain":[0,1],"range":[366,233],"nice":false,"zero":false},
"axis":{"orient":"left","offset":-44,"values":[0,1],"format":"~g","ticks":false,"tickSize":0,"domainColor":"#111111","domainWidth":2,"labelFontSize":16,"labelPadding":4,"title":"power (a.u.)","titleFontSize":16.5,"titlePadding":2}},
"color":{"field":"c","type":"nominal","scale":{"domain":["g","y","p"],"range":["#a6d854","#ffd92f","#e78ac3"]},"legend":null},
"detail":{"field":"s","type":"nominal"}}},
{"data":{"name":"dashT"},"mark":{"type":"line","color":"#111111","strokeWidth":1.5,"strokeDash":[4,3],"interpolate":"monotone"},
"encoding":{"x":{"field":"t","type":"quantitative"},"y":{"field":"p","type":"quantitative"}}},
{"data":{"values":[{"a":21.6,"b":37.2,"lo":1.386,"hi":1.566,"c":"p"},{"a":16.2,"b":20.56,"lo":1.105,"hi":1.231,"c":"g"},{"a":20.56,"b":28.65,"lo":1.105,"hi":1.231,"c":"y"},{"a":28.65,"b":33.01,"lo":1.105,"hi":1.231,"c":"g"},{"a":33.01,"b":45.47,"lo":1.105,"hi":1.231,"c":"p"},{"a":45.47,"b":49.83,"lo":1.105,"hi":1.231,"c":"g"},{"a":49.83,"b":62.29,"lo":1.105,"hi":1.231,"c":"p"},{"a":62.29,"b":66.03,"lo":1.105,"hi":1.231,"c":"g"},{"a":66.03,"b":78.49,"lo":1.105,"hi":1.231,"c":"p"}]},
"mark":{"type":"rect"},
"encoding":{"x":{"field":"a","type":"quantitative"},"x2":{"field":"b"},"y":{"field":"lo","type":"quantitative"},"y2":{"field":"hi"},
"color":{"field":"c","type":"nominal","legend":null}}},
{"data":{"values":[{"a":39.24,"y":1.466,"t":"Out of Resonance"}]},"mark":{"type":"text","align":"left","fontSize":17.5,"baseline":"middle"},
"encoding":{"x":{"field":"a","type":"quantitative"},"y":{"field":"y","type":"quantitative"},"text":{"field":"t"}}},
{"data":{"values":[{"a":82.85,"y":1.16,"t":"Repeating Pattern"}]},"mark":{"type":"text","align":"left","fontSize":15.5,"baseline":"middle"},
"encoding":{"x":{"field":"a","type":"quantitative"},"y":{"field":"y","type":"quantitative"},"text":{"field":"t"}}}
]
},
{
"layer":[
{"data":{"name":"bl"},"mark":{"type":"line","strokeWidth":2.5},
"encoding":{"x":{"field":"t","type":"quantitative","scale":{"domain":[0,4.1],"range":[57,293],"nice":false,"zero":false},
"axis":{"orient":"bottom","offset":-49,"values":[0,1.4,2.7,4.1],"format":"~g","tickSize":4,"tickWidth":1.5,"tickColor":"#111111","domainColor":"#111111","domainWidth":2,"labelFontSize":16,"labelPadding":2,"title":"time (µs)","titleFontSize":17,"titlePadding":0}},
"y":{"field":"p","type":"quantitative","scale":{"domain":[0,1],"range":[571,432],"nice":false,"zero":false},
"axis":{"orient":"left","offset":-44,"values":[0,1],"format":"~g","ticks":false,"tickSize":0,"domainColor":"#111111","domainWidth":2,"labelFontSize":16,"labelPadding":4,"title":"power (a.u.)","titleFontSize":16.5,"titlePadding":2}},
"color":{"field":"c","type":"nominal","scale":{"domain":["b","p"],"range":["#8da0cb","#e78ac3"]},"legend":null},
"detail":{"field":"s","type":"nominal"}}},
{"data":{"name":"dashB"},"mark":{"type":"line","color":"#111111","strokeWidth":1.5,"strokeDash":[4,3],"interpolate":"monotone"},
"encoding":{"x":{"field":"t","type":"quantitative"},"y":{"field":"p","type":"quantitative"}}},
{"data":{"values":[{"a":1.663,"b":1.963,"lo":1.014,"hi":1.139,"c":"b"},{"a":1.963,"b":2.241,"lo":1.014,"hi":1.139,"c":"p"}]},
"mark":{"type":"rect"},
"encoding":{"x":{"field":"a","type":"quantitative"},"x2":{"field":"b"},"y":{"field":"lo","type":"quantitative"},"y2":{"field":"hi"},
"color":{"field":"c","type":"nominal","legend":null}}},
{"data":{"values":[{"a":2.311,"y":1.081,"t":"Repeating Pattern"}]},"mark":{"type":"text","align":"left","fontSize":15.5,"baseline":"middle"},
"encoding":{"x":{"field":"a","type":"quantitative"},"y":{"field":"y","type":"quantitative"},"text":{"field":"t"}}}
]
},
{
"layer":[
{"data":{"values":[{"x":9,"y":1,"g":"o"},{"x":-1.085,"y":6.233,"g":"o"},{"x":5,"y":6,"g":"t"},{"x":-1.085,"y":12.037,"g":"t"}]},
"mark":{"type":"line","strokeWidth":2.5},
"encoding":{"x":{"field":"x","type":"quantitative","scale":{"domain":[0,21],"range":[321,863],"nice":false,"zero":false},"axis":null},
"y":{"field":"y","type":"quantitative","scale":{"domain":[0.5,12.5],"range":[169.92,480.08],"nice":false,"zero":false},
"axis":{"orient":"right","offset":-115,"values":[0.5,1.5,2.5,3.5,4.5,5.5,6.5,7.5,8.5,9.5,10.5,11.5,12.5],"labelExpr":"datum.value == 0.5 ? '7.0' : datum.value == 11.5 ? '1.2' : datum.value == 12.5 ? '0.7' : ''","tickSize":10,"tickWidth":2.5,"tickColor":"#111111","domainColor":"#111111","domainWidth":2.5,"labelFontSize":17,"labelPadding":6,"title":"Input Power","titleFontSize":15.5,"titleAngle":90,"titleX":28,"titleY":325,"titleAlign":"center","titleBaseline":"middle"}},
"color":{"field":"g","type":"nominal","scale":{"domain":["o","t"],"range":["#fc8d62","#e5c494"]},"legend":null},
"detail":{"field":"g","type":"nominal"}}},
{"data":{"values":[{"x":22.36,"y":-0.27,"t":"mW"}]},"mark":{"type":"text","align":"left","fontSize":17,"baseline":"middle"},
"encoding":{"x":{"field":"x","type":"quantitative","axis":null},"y":{"field":"y","type":"quantitative"},"text":{"field":"t"}}}
]
}
]
}
